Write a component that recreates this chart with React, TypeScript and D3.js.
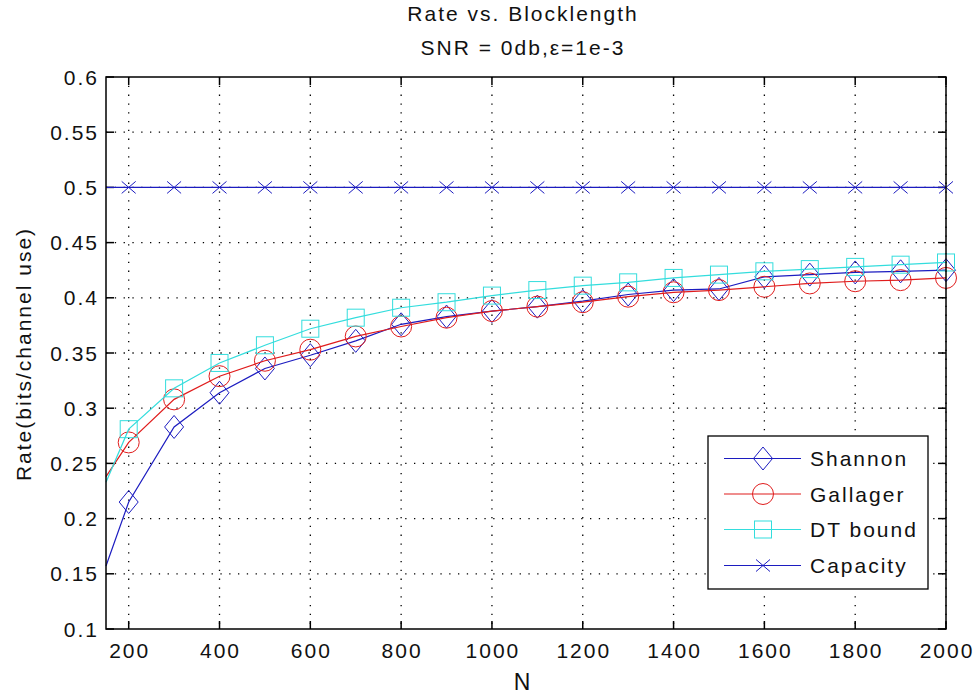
import React from "react";
import * as d3 from "d3";

const N: number[] = [150, 200, 300, 400, 500, 600, 700, 800, 900, 1000, 1100, 1200, 1300, 1400, 1500, 1600, 1700, 1800, 1900, 2000];
const shannon: number[] = [0.157, 0.215, 0.283, 0.314, 0.336, 0.348, 0.361, 0.376, 0.383, 0.388, 0.392, 0.397, 0.403, 0.407, 0.408, 0.419, 0.421, 0.423, 0.424, 0.425];
const gallager: number[] = [0.238, 0.269, 0.308, 0.329, 0.343, 0.353, 0.365, 0.374, 0.382, 0.388, 0.392, 0.396, 0.401, 0.405, 0.407, 0.41, 0.413, 0.415, 0.416, 0.418];
const dtBound: number[] = [0.233, 0.281, 0.318, 0.341, 0.357, 0.372, 0.382, 0.391, 0.396, 0.402, 0.407, 0.411, 0.414, 0.418, 0.421, 0.424, 0.426, 0.428, 0.43, 0.432];
const capacity: number[] = [0.5, 0.5, 0.5, 0.5, 0.5, 0.5, 0.5, 0.5, 0.5, 0.5, 0.5, 0.5, 0.5, 0.5, 0.5, 0.5, 0.5, 0.5, 0.5, 0.5];

const xTicks: number[] = [200, 400, 600, 800, 1000, 1200, 1400, 1600, 1800, 2000];
const yTicks: number[] = [0.1, 0.15, 0.2, 0.25, 0.3, 0.35, 0.4, 0.45, 0.5, 0.55, 0.6];
const yTickLabels: string[] = ["0.1", "0.15", "0.2", "0.25", "0.3", "0.35", "0.4", "0.45", "0.5", "0.55", "0.6"];

const seriesNames: string[] = ["Shannon", "Gallager", "DT bound", "Capacity"];
const seriesColors: string[] = ["#1c1cc0", "#e01c1c", "#33dddd", "#1c1cc0"];
const seriesMarkers: string[] = ["diamond", "circle", "square", "x"];

const W = 979;
const H = 700;
const L = 106, R = 946, T = 77, B = 629;
const FONT = "'Liberation Sans', Arial, sans-serif";
const FS = 21;
const LS = 2;

function Marker({ type, x, y, color }: { type: string; x: number; y: number; color: string }) {
  if (type === "diamond") {
    return <path d={`M${x},${y - 11.5} L${x + 9.5},${y} L${x},${y + 11.5} L${x - 9.5},${y} Z`} fill="none" stroke={color} strokeWidth={1} />;
  }
  if (type === "circle") {
    return <circle cx={x} cy={y} r={10.5} fill="none" stroke={color} strokeWidth={1} />;
  }
  if (type === "square") {
    return <rect x={x - 8.5} y={y - 8.5} width={17} height={17} fill="none" stroke={color} strokeWidth={1} />;
  }
  return <path d={`M${x - 7},${y - 6} L${x + 7},${y + 6} M${x - 7},${y + 6} L${x + 7},${y - 6}`} fill="none" stroke={color} strokeWidth={1} />;
}

export default function App() {
  const x = d3.scaleLinear().domain([150, 2000]).range([L, R]);
  const y = d3.scaleLinear().domain([0.1, 0.6]).range([B, T]);
  const allSeries = [shannon, gallager, dtBound, capacity];
  const line = d3.line<number>().x((_, i) => x(N[i])).y((d) => y(d));
  const tickLen = 8;

  const legX = 708, legY = 436, legW = 220, legH = 153;
  const legRows = [458.5, 494, 529.5, 565.5];

  return (
    <svg width={W} height={H} style={{ display: "block", position: "absolute", left: 0, top: 0, background: "#fff" }} fontFamily={FONT} letterSpacing={LS}>
      <rect x={0} y={0} width={W} height={H} fill="#fff" />
      {/* grid */}
      {xTicks.map((t) => (
        <line key={"gx" + t} x1={x(t)} x2={x(t)} y1={T} y2={B} stroke="#000" strokeWidth={1.3} strokeDasharray="1.3,7.5" />
      ))}
      {yTicks.slice(1, -1).map((t) => (
        <line key={"gy" + t} x1={L} x2={R} y1={y(t)} y2={y(t)} stroke="#000" strokeWidth={1.3} strokeDasharray="1.3,7.5" />
      ))}
      {/* ticks */}
      {xTicks.map((t) => (
        <g key={"tx" + t}>
          <line x1={x(t)} x2={x(t)} y1={B} y2={B - tickLen} stroke="#000" strokeWidth={1.5} />
          <line x1={x(t)} x2={x(t)} y1={T} y2={T + tickLen} stroke="#000" strokeWidth={1.5} />
          <text x={x(t) + LS / 2} y={658} textAnchor="middle" fontSize={FS} fill="#111">{t}</text>
        </g>
      ))}
      {yTicks.map((t, i) => (
        <g key={"ty" + t}>
          <line x1={L} x2={L + tickLen} y1={y(t)} y2={y(t)} stroke="#000" strokeWidth={1.5} />
          <line x1={R} x2={R - tickLen} y1={y(t)} y2={y(t)} stroke="#000" strokeWidth={1.5} />
          <text x={97 + LS} y={y(t) + 7.5} textAnchor="end" fontSize={FS} fill="#111">{yTickLabels[i]}</text>
        </g>
      ))}
      {/* series */}
      <g>
        {allSeries.map((s, si) => (
          <g key={"s" + si}>
            <path d={line(s) || ""} fill="none" stroke={seriesColors[si]} strokeWidth={1.2} />
            {s.map((v, i) => (N[i] % 100 === 0 ? <Marker key={i} type={seriesMarkers[si]} x={x(N[i])} y={y(v)} color={seriesColors[si]} /> : null))}
          </g>
        ))}
      </g>
      {/* axes box */}
      <rect x={L} y={T} width={R - L} height={B - T} fill="none" stroke="#000" strokeWidth={1.5} />
      {/* labels */}
      <text x={523} y={21} textAnchor="middle" fontSize={FS} fill="#111">Rate vs. Blocklength</text>
      <text x={523} y={55} textAnchor="middle" fontSize={FS} fill="#111">SNR = 0db,ε=1e-3</text>
      <text x={523} y={690} textAnchor="middle" fontSize={23} fill="#111">N</text>
      <text transform={`translate(31,354) rotate(-90)`} textAnchor="middle" fontSize={FS} fill="#111">Rate(bits/channel use)</text>
      {/* legend */}
      <rect x={legX} y={legY} width={legW} height={legH} fill="#fff" stroke="#000" strokeWidth={1.3} />
      {seriesNames.map((name, i) => (
        <g key={"leg" + i}>
          <line x1={724} x2={801} y1={legRows[i]} y2={legRows[i]} stroke={seriesColors[i]} strokeWidth={1.2} />
          <Marker type={seriesMarkers[i]} x={763} y={legRows[i]} color={seriesColors[i]} />
          <text x={810} y={legRows[i] + 7.5} fontSize={FS} fill="#111">{name}</text>
        </g>
      ))}
    </svg>
  );
}
